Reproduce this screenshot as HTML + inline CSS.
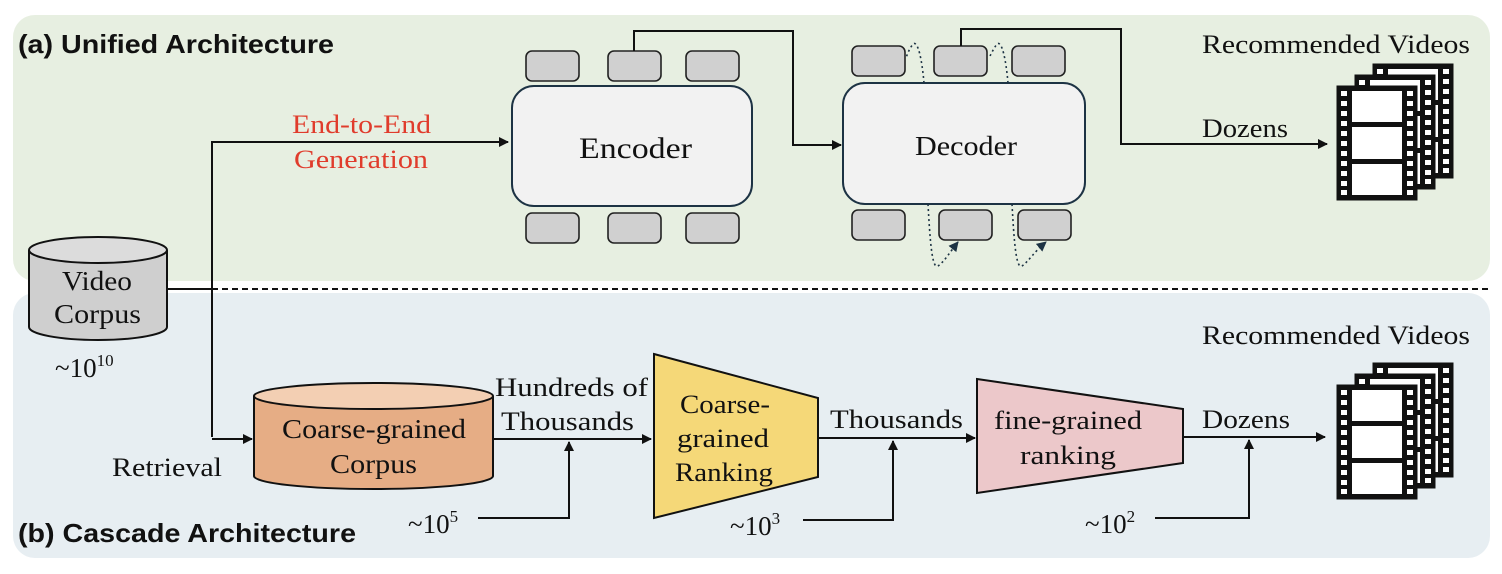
<!DOCTYPE html>
<html><head><meta charset="utf-8"><style>
html,body{margin:0;padding:0;background:#fff;}
svg{display:block;}
.s{font-family:"Liberation Serif",serif;fill:#111;}
.b{font-family:"Liberation Sans",sans-serif;font-weight:bold;fill:#111;}
</style></head><body>
<svg width="1502" height="574" viewBox="0 0 1502 574" xmlns="http://www.w3.org/2000/svg">
<defs>
<marker id="ar" markerWidth="10" markerHeight="10" refX="9" refY="5" orient="auto" markerUnits="userSpaceOnUse"><path d="M0,0 L10,5 L0,10 z" fill="#111"/></marker>
<marker id="ar2" markerWidth="10" markerHeight="10" refX="9" refY="5" orient="auto" markerUnits="userSpaceOnUse"><path d="M0,0 L10,5 L0,10 z" fill="#1d3344"/></marker>
<g id="film">
<rect x="0" y="0" width="80" height="114" fill="#111" stroke="#111"/>
<g fill="#fff">
<rect x="4" y="5" width="6" height="5"/><rect x="4" y="15" width="6" height="5"/><rect x="4" y="25" width="6" height="5"/><rect x="4" y="35" width="6" height="5"/><rect x="4" y="45" width="6" height="5"/><rect x="4" y="55" width="6" height="5"/><rect x="4" y="65" width="6" height="5"/><rect x="4" y="75" width="6" height="5"/><rect x="4" y="85" width="6" height="5"/><rect x="4" y="95" width="6" height="5"/><rect x="4" y="104" width="6" height="5"/>
<rect x="70" y="5" width="6" height="5"/><rect x="70" y="15" width="6" height="5"/><rect x="70" y="25" width="6" height="5"/><rect x="70" y="35" width="6" height="5"/><rect x="70" y="45" width="6" height="5"/><rect x="70" y="55" width="6" height="5"/><rect x="70" y="65" width="6" height="5"/><rect x="70" y="75" width="6" height="5"/><rect x="70" y="85" width="6" height="5"/><rect x="70" y="95" width="6" height="5"/><rect x="70" y="104" width="6" height="5"/>
<rect x="15" y="5" width="50" height="31"/><rect x="15" y="41" width="50" height="32"/><rect x="15" y="78" width="50" height="31"/>
</g>
</g>
<g id="stack">
<use href="#film" x="36" y="-22"/>
<use href="#film" x="18" y="-11"/>
<use href="#film" x="0" y="0"/>
</g>
</defs>
<!-- panels -->
<rect x="13" y="15" width="1477" height="266" rx="22" fill="#e7efe1"/>
<rect x="13" y="293" width="1477" height="265" rx="22" fill="#e7eef2"/>
<line x1="212" y1="289" x2="1490" y2="289" stroke="#111" stroke-width="2" stroke-dasharray="6,4"/>
<line x1="167" y1="289" x2="212" y2="289" stroke="#111" stroke-width="2"/>

<text class="b" x="18" y="53" font-size="26" textLength="316" lengthAdjust="spacingAndGlyphs">(a) Unified Architecture</text>
<text class="b" x="18" y="542" font-size="26" textLength="338" lengthAdjust="spacingAndGlyphs">(b) Cascade Architecture</text>

<!-- video corpus -->
<path d="M29,250 L29,327 A69,13 0 0 0 167,327 L167,250" fill="#cfcfcf" stroke="#111" stroke-width="2"/>
<ellipse cx="98" cy="250" rx="69" ry="13" fill="#dcdcdc" stroke="#111" stroke-width="2"/>
<text class="s" x="62" y="290" font-size="27" textLength="70" lengthAdjust="spacingAndGlyphs">Video</text>
<text class="s" x="54" y="323" font-size="27" textLength="87" lengthAdjust="spacingAndGlyphs">Corpus</text>
<text class="s" x="55" y="377" font-size="27">~10<tspan font-size="17" dy="-11">10</tspan></text>

<!-- encoder path -->
<polyline points="212,437 212,142 508,142" fill="none" stroke="#111" stroke-width="2" marker-end="url(#ar)"/>
<text x="292" y="133" font-size="26" font-family="Liberation Serif,serif" fill="#e03c2c" textLength="139" lengthAdjust="spacingAndGlyphs">End-to-End</text>
<text x="294" y="168" font-size="26" font-family="Liberation Serif,serif" fill="#e03c2c" textLength="134" lengthAdjust="spacingAndGlyphs">Generation</text>

<g fill="#d0d0d0" stroke="#222" stroke-width="1.6">
<rect x="526" y="51" width="53" height="30" rx="6"/><rect x="608" y="51" width="53" height="30" rx="6"/><rect x="686" y="51" width="53" height="30" rx="6"/>
<rect x="526" y="213" width="53" height="30" rx="6"/><rect x="608" y="213" width="53" height="30" rx="6"/><rect x="686" y="213" width="53" height="30" rx="6"/>
<rect x="852" y="46" width="53" height="30" rx="6"/><rect x="934" y="46" width="53" height="30" rx="6"/><rect x="1012" y="46" width="53" height="30" rx="6"/>
<rect x="852" y="210" width="53" height="30" rx="6"/><rect x="939" y="210" width="53" height="30" rx="6"/><rect x="1018" y="210" width="53" height="30" rx="6"/>
</g>
<rect x="512" y="86" width="240" height="120" rx="22" fill="#f2f2f2" stroke="#1d3344" stroke-width="2"/>
<text class="s" x="579" y="158" font-size="30" textLength="113" lengthAdjust="spacingAndGlyphs">Encoder</text>
<rect x="843" y="83" width="242" height="121" rx="22" fill="#f2f2f2" stroke="#1d3344" stroke-width="2"/>
<text class="s" x="915" y="155" font-size="27" textLength="102" lengthAdjust="spacingAndGlyphs">Decoder</text>

<polyline points="634,51 634,31 793,31 793,145 841,145" fill="none" stroke="#111" stroke-width="2" marker-end="url(#ar)"/>
<polyline points="961,46 961,29 1121,29 1121,144 1327,144" fill="none" stroke="#111" stroke-width="2" marker-end="url(#ar)"/>
<text class="s" x="1202" y="137" font-size="26" textLength="86" lengthAdjust="spacingAndGlyphs">Dozens</text>
<text class="s" x="1202" y="53" font-size="26" textLength="268" lengthAdjust="spacingAndGlyphs">Recommended Videos</text>

<!-- dotted -->
<g fill="none" stroke="#1d3344" stroke-width="1.6" stroke-dasharray="2,3">
<path d="M924,83 C922,60 918,40 913,44 C910,48 908,52 906,58"/>
<path d="M1008,83 C1006,60 1002,40 997,44 C994,48 992,52 989,58"/>
<path d="M928,204 C930,240 932,270 938,266 C944,262 950,252 958,242" marker-end="url(#ar2)"/>
<path d="M1012,204 C1014,240 1016,270 1022,266 C1028,262 1034,252 1046,242" marker-end="url(#ar2)"/>
</g>

<use href="#stack" x="1337" y="86"/>

<!-- cascade -->
<line x1="212" y1="439" x2="252" y2="439" stroke="#111" stroke-width="2" marker-end="url(#ar)"/>
<text class="s" x="112" y="476" font-size="26" textLength="110" lengthAdjust="spacingAndGlyphs">Retrieval</text>
<path d="M254,396 L254,476 A119.5,13 0 0 0 493,476 L493,396" fill="#e6ad85" stroke="#111" stroke-width="2"/>
<ellipse cx="373.5" cy="396" rx="119.5" ry="13" fill="#f3cfb3" stroke="#111" stroke-width="2"/>
<text class="s" x="282" y="438" font-size="27" textLength="184" lengthAdjust="spacingAndGlyphs">Coarse-grained</text>
<text class="s" x="330" y="473" font-size="27" textLength="87" lengthAdjust="spacingAndGlyphs">Corpus</text>

<line x1="493" y1="439" x2="651" y2="439" stroke="#111" stroke-width="2" marker-end="url(#ar)"/>
<text class="s" x="495" y="396" font-size="26" textLength="153" lengthAdjust="spacingAndGlyphs">Hundreds of</text>
<text class="s" x="501" y="430" font-size="26" textLength="133" lengthAdjust="spacingAndGlyphs">Thousands</text>
<polyline points="478,518 569,518 569,442" fill="none" stroke="#111" stroke-width="2" marker-end="url(#ar)"/>
<text class="s" x="408" y="533" font-size="27">~10<tspan font-size="17" dy="-11">5</tspan></text>

<polygon points="654,354 818,398 818,477 654,518" fill="#f5d878" stroke="#111" stroke-width="2"/>
<text class="s" x="680" y="413" font-size="26" textLength="90" lengthAdjust="spacingAndGlyphs">Coarse-</text>
<text class="s" x="677" y="447" font-size="26" textLength="92" lengthAdjust="spacingAndGlyphs">grained</text>
<text class="s" x="675" y="481" font-size="26" textLength="98" lengthAdjust="spacingAndGlyphs">Ranking</text>

<line x1="818" y1="438" x2="975" y2="438" stroke="#111" stroke-width="2" marker-end="url(#ar)"/>
<text class="s" x="830" y="428" font-size="26" textLength="133" lengthAdjust="spacingAndGlyphs">Thousands</text>
<polyline points="803,520 893,520 893,441" fill="none" stroke="#111" stroke-width="2" marker-end="url(#ar)"/>
<text class="s" x="730" y="535" font-size="27">~10<tspan font-size="17" dy="-11">3</tspan></text>

<polygon points="977,379 1183,409 1183,463 977,493" fill="#ecc8ca" stroke="#111" stroke-width="2"/>
<text class="s" x="994" y="429" font-size="26" textLength="148" lengthAdjust="spacingAndGlyphs">fine-grained</text>
<text class="s" x="1020" y="464" font-size="26" textLength="96" lengthAdjust="spacingAndGlyphs">ranking</text>

<line x1="1183" y1="437" x2="1325" y2="437" stroke="#111" stroke-width="2" marker-end="url(#ar)"/>
<text class="s" x="1202" y="428" font-size="26" textLength="88" lengthAdjust="spacingAndGlyphs">Dozens</text>
<polyline points="1155,518 1249,518 1249,440" fill="none" stroke="#111" stroke-width="2" marker-end="url(#ar)"/>
<text class="s" x="1085" y="533" font-size="27">~10<tspan font-size="17" dy="-11">2</tspan></text>

<text class="s" x="1202" y="344" font-size="26" textLength="268" lengthAdjust="spacingAndGlyphs">Recommended Videos</text>
<use href="#stack" x="1337" y="385"/>
</svg>
</body></html>
